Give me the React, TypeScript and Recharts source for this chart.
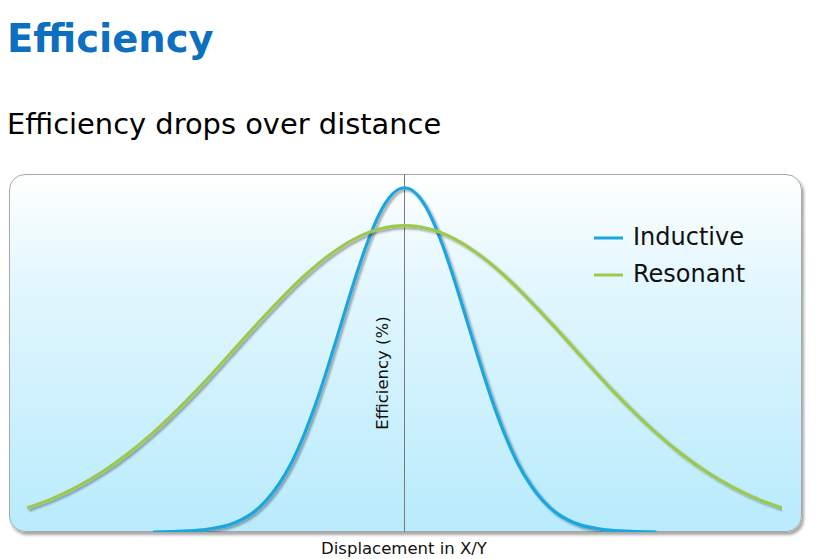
import React from 'react';
import { LineChart, Line, XAxis, YAxis, ReferenceLine } from 'recharts';

// Displacement (arbitrary units) and efficiency (%)
const inductiveX = [-10, -9, -8, -7.5, -7, -6.5, -6, -5.5, -5, -4.5, -4, -3.5, -3, -2.5, -2, -1.5, -1, -0.5, 0, 0.5, 1, 1.5, 2, 2.5, 3, 3.5, 4, 4.5, 5, 5.5, 6, 6.5, 7, 7.5, 8, 9, 10];
const inductiveValues = [0, 0.2, 0.6, 1.2, 2.0, 3.5, 5.7, 9.1, 13.8, 20, 28.1, 37.8, 49, 60.9, 72.8, 83.6, 92.4, 98, 100, 98, 92.4, 83.6, 72.8, 60.9, 49, 37.8, 28.1, 20, 13.8, 9.1, 5.7, 3.5, 2.0, 1.2, 0.6, 0.2, 0];

const resonantX = [-15, -14, -13, -12, -11, -10, -9, -8, -7, -6, -5, -4, -3, -2, -1, 0, 1, 2, 3, 4, 5, 6, 7, 8, 9, 10, 11, 12, 13, 14, 15];
const resonantValues = [7.0, 9.7, 13.2, 17.5, 22.7, 28.8, 35.7, 43.2, 51.2, 59.3, 67.1, 74.3, 80.4, 85.1, 88.0, 89, 88.0, 85.1, 80.4, 74.3, 67.1, 59.3, 51.2, 43.2, 35.7, 28.8, 22.7, 17.5, 13.2, 9.7, 7.0];

const seriesNames = ['Inductive', 'Resonant'];
const seriesColors = ['#1aa6df', '#9cc84c'];

const inductiveData = inductiveX.map((x, i) => ({ x, value: inductiveValues[i] }));
const resonantData = resonantX.map((x, i) => ({ x, value: resonantValues[i] }));

const FONT = '"DejaVu Sans", Verdana, sans-serif';

const LegendBox = () => (
  <div style={{ position: 'absolute', left: 594, top: 219, fontFamily: FONT }}>
    {seriesNames.map((name, i) => (
      <div key={name} style={{ display: 'flex', alignItems: 'center', height: 37 }}>
        <svg width={30} height={4} style={{ marginRight: 9 }}>
          <line x1={0} y1={2} x2={29} y2={2} stroke={seriesColors[i]} strokeWidth={3} />
        </svg>
        <span style={{ fontSize: 24, color: '#111', lineHeight: '37px' }}>{name}</span>
      </div>
    ))}
  </div>
);

export default function App() {
  return (
    <div style={{ position: 'absolute', left: 0, top: 0, width: 818, height: 559, background: '#fff', fontFamily: FONT, overflow: 'hidden' }}>
      <svg width={0} height={0} style={{ position: 'absolute' }}>
        <defs>
          <filter id="lineShadow" x="-10%" y="-10%" width="120%" height="120%">
            <feDropShadow dx="2" dy="2" stdDeviation="1.2" floodColor="#000" floodOpacity="0.35" />
          </filter>
        </defs>
      </svg>
      <div style={{ position: 'absolute', left: 7, top: 14, fontSize: 38.5, fontWeight: 'bold', color: '#0d6fc0', lineHeight: '50px', whiteSpace: 'nowrap' }}>
        Efficiency
      </div>
      <div style={{ position: 'absolute', left: 7, top: 106, fontSize: 28.9, color: '#000', lineHeight: '36px', whiteSpace: 'nowrap' }}>
        Efficiency drops over distance
      </div>
      <div
        style={{
          position: 'absolute',
          left: 9,
          top: 174,
          width: 791,
          height: 356,
          border: '1px solid #a8a8a8',
          borderRadius: 16,
          background: 'linear-gradient(to bottom, #ffffff 0%, #e3f7fe 30%, #b8ebfc 100%)',
          boxShadow: '2px 3px 3px rgba(0,0,0,0.35)',
        }}
      />
      <div style={{ position: 'absolute', left: 9, top: 174 }}>
        <LineChart width={793} height={358} margin={{ top: 0, right: 20, bottom: 0, left: 18 }}>
          <XAxis type="number" dataKey="x" domain={[-15, 15]} hide allowDataOverflow />
          <YAxis type="number" domain={[0, 104]} hide allowDataOverflow />
          <ReferenceLine x={0} stroke="#7a7a7a" strokeWidth={1} />
          <Line
            data={inductiveData}
            dataKey="value"
            name={seriesNames[0]}
            type="monotone"
            stroke={seriesColors[0]}
            strokeWidth={3.2}
            dot={false}
            activeDot={false}
            filter="url(#lineShadow)"
            isAnimationActive={false}
          />
          <Line
            data={resonantData}
            dataKey="value"
            name={seriesNames[1]}
            type="monotone"
            stroke={seriesColors[1]}
            strokeWidth={3.2}
            dot={false}
            activeDot={false}
            filter="url(#lineShadow)"
            isAnimationActive={false}
          />
        </LineChart>
      </div>
      <LegendBox />
      <div
        style={{
          position: 'absolute',
          left: 383 - 80,
          top: 373 - 10,
          width: 160,
          height: 20,
          textAlign: 'center',
          fontSize: 16.5,
          lineHeight: '20px',
          color: '#111',
          transform: 'rotate(-90deg)',
          whiteSpace: 'nowrap',
        }}
      >
        Efficiency (%)
      </div>
      <div style={{ position: 'absolute', left: 404 - 120, top: 539, width: 240, textAlign: 'center', fontSize: 16.5, lineHeight: '20px', color: '#111', whiteSpace: 'nowrap' }}>
        Displacement in X/Y
      </div>
    </div>
  );
}
